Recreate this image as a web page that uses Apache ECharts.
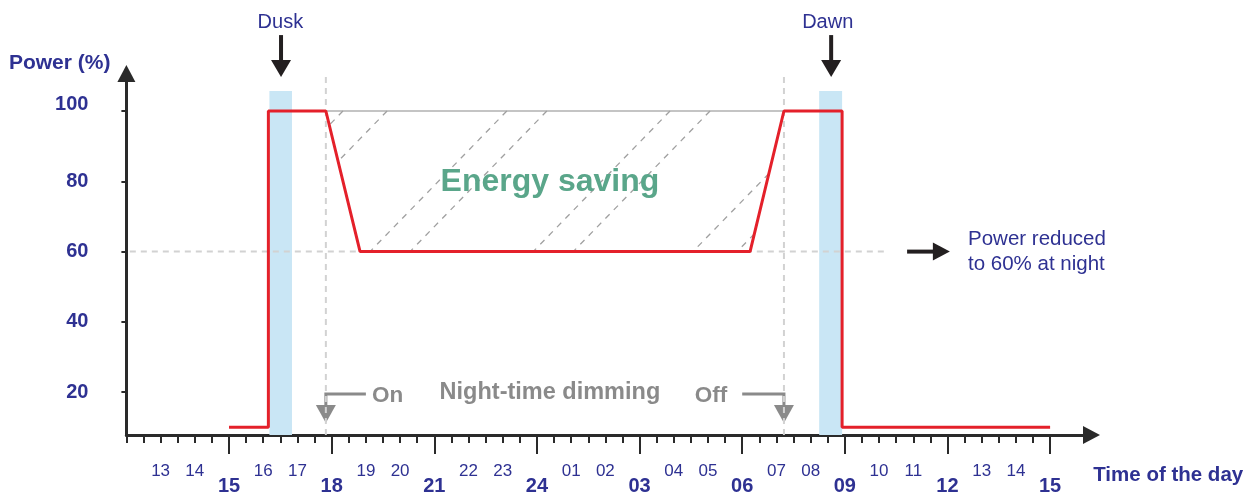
<!DOCTYPE html>
<html>
<head>
<meta charset="utf-8">
<title>Night-time dimming</title>
<script src="https://cdn.jsdelivr.net/npm/echarts@6/dist/echarts.min.js"></script>
<style>
    html, body { margin: 0; padding: 0; background: #fff; }
    #main { width: 1254px; height: 493px; }
</style>
</head>
<body>
<div id="main"></div>
<script>
    // x = hours counted from 12:00 on the first day
    var minorHours  = [1, 2, 4, 5, 7, 8, 10, 11, 13, 14, 16, 17, 19, 20, 22, 23, 25, 26];
    var minorLabels = ['13','14','16','17','19','20','22','23','01','02','04','05','07','08','10','11','13','14'];
    var majorHours  = [3, 6, 9, 12, 15, 18, 21, 24, 27];
    var majorLabels = ['15','18','21','24','03','06','09','12','15'];
    var yTicks = [20, 40, 60, 80, 100];

    // red power curve
    var powerX = [3, 4.15, 4.15, 5.83, 6.83, 18.23, 19.22, 20.92, 20.92, 27];
    var powerY = [10, 10, 100, 100, 60, 60, 100, 100, 10, 10];

    // dusk / dawn bands and switching times
    var duskBand = [4.18, 4.84];
    var dawnBand = [20.25, 20.92];
    var bandTop = 105.7;
    var dimOn = 5.83;
    var dimOff = 19.22;
    var fullLevel = 100;
    var dimLevel = 60;
    var dimLineEnd = 22.26;

    // hatch segments in the energy saving area
    var hatchStart = [[6.33, 100], [7.62, 100], [11.12, 100], [12.29, 100], [15.89, 100], [17.06, 100], [18.78, 82.2], [18.355, 65.05]];
    var hatchEnd   = [[5.94, 96.1], [6.20, 85.8], [7.12, 60], [8.29, 60], [11.89, 60], [13.06, 60], [16.56, 60], [17.85, 60]];

    var yMin = 7.82, yMax = 110.67;
    var xMax = 28.21;

    var navy = '#2e3192';
    var gray = '#8a8a8a';
    var ink = '#231f20';
    var fontFam = '"Liberation Sans", Arial, sans-serif';

    var halfHours = [];
    for (var t = 0; t <= 27; t += 0.5) { halfHours.push(t); }

    var powerData = [];
    for (var i = 0; i < powerX.length; i++) { powerData.push([powerX[i], powerY[i]]); }

    var series = [{
        type: 'line', z: 1, symbol: 'none', data: [[duskBand[0], yMin]], lineStyle: {width: 0},
        markArea: {silent: true, itemStyle: {color: '#c9e6f5'}, data: [
            [{xAxis: duskBand[0], yAxis: yMin}, {xAxis: duskBand[1], yAxis: bandTop}],
            [{xAxis: dawnBand[0], yAxis: yMin}, {xAxis: dawnBand[1], yAxis: bandTop}]
        ]}
    }, {
        type: 'line', z: 2, symbol: 'none',
        data: [[0.1, dimLevel], [dimLineEnd, dimLevel]],
        lineStyle: {color: '#d2d2d2', width: 2, type: [6, 5]}
    }, {
        type: 'line', z: 2, symbol: 'none',
        data: [[dimOn, yMin], [dimOn, 113.9]],
        lineStyle: {color: '#d2d2d2', width: 2, type: [6, 5]}
    }, {
        type: 'line', z: 2, symbol: 'none',
        data: [[dimOff, yMin], [dimOff, 113.9]],
        lineStyle: {color: '#d2d2d2', width: 2, type: [6, 5]}
    }, {
        type: 'line', z: 2, symbol: 'none',
        data: [[dimOn, fullLevel], [dimOff, fullLevel]],
        lineStyle: {color: '#b0b0b0', width: 1.5}
    }];
    for (var i = 0; i < hatchStart.length; i++) {
        series.push({
            type: 'line', z: 2, symbol: 'none', silent: true,
            data: [hatchStart[i], hatchEnd[i]],
            lineStyle: {color: '#a0a0a0', width: 1.3, type: [6, 6]}
        });
    }
    series.push({
        type: 'line', z: 5, symbol: 'none', data: powerData,
        lineStyle: {color: '#e4202a', width: 3}
    });

    var option = {
        animation: false,
        grid: {left: 126.4, right: 162.5, top: 73.5, bottom: 58, outerBoundsMode: 'none'},
        xAxis: [{
            type: 'value', position: 'bottom', min: 0, max: xMax,
            axisLine: {show: true, symbol: ['none', 'triangle'], symbolSize: [18, 17],
                lineStyle: {color: '#2a2a2a', width: 3}},
            axisTick: {show: true, customValues: halfHours, length: 8, lineStyle: {color: '#2a2a2a', width: 2}},
            axisLabel: {customValues: minorHours, margin: 28, color: navy, fontSize: 17, fontFamily: fontFam,
                formatter: function (v) { return minorLabels[minorHours.indexOf(v)]; }},
            splitLine: {show: false}
        }, {
            type: 'value', position: 'bottom', min: 0, max: xMax,
            axisLine: {show: false},
            axisTick: {show: true, customValues: majorHours, length: 19, lineStyle: {color: '#2a2a2a', width: 2}},
            axisLabel: {customValues: majorHours, margin: 41, color: navy, fontSize: 20, fontWeight: 'bold', fontFamily: fontFam,
                formatter: function (v) { return majorLabels[majorHours.indexOf(v)]; }},
            splitLine: {show: false}
        }],
        yAxis: {
            type: 'value', min: yMin, max: yMax,
            name: 'Power (%)', nameLocation: 'end', nameGap: 10, nameMoveOverlap: false,
            nameTextStyle: {color: navy, fontSize: 21, fontWeight: 'bold', fontFamily: fontFam,
                align: 'right', verticalAlign: 'middle', padding: [0, 16, 0, 0]},
            axisLine: {show: true, symbol: ['none', 'triangle'], symbolSize: [18, 17],
                lineStyle: {color: '#2a2a2a', width: 3}},
            axisTick: {show: true, customValues: yTicks, length: 5, lineStyle: {color: '#2a2a2a', width: 2}},
            axisLabel: {customValues: yTicks, margin: 38,
                formatter: function (v) { return v === 100 ? '{top|100}' : '{n|' + v + '}'; },
                rich: {
                    top: {color: navy, fontSize: 20, fontWeight: 'bold', fontFamily: fontFam, padding: [0, 0, 14, 0]},
                    n: {color: navy, fontSize: 20, fontWeight: 'bold', fontFamily: fontFam}
                }},
            splitLine: {show: false}
        },
        series: series
    };

    var chart = echarts.init(document.getElementById('main'));
    chart.setOption(option);

    function px(p) { return chart.convertToPixel({xAxisIndex: 0, yAxisIndex: 0}, p); }

    function downArrow(topPt, tipPt, color, w) {
        var a = px(topPt), b = px(tipPt);
        return [
            {type: 'polyline', shape: {points: [a, [b[0], b[1] - 15]]}, style: {stroke: color, lineWidth: w, fill: null}},
            {type: 'polygon', shape: {points: [[b[0] - 10, b[1] - 17], [b[0] + 10, b[1] - 17], b]}, style: {fill: color}}
        ];
    }

    function elbowArrow(startPt, cornerX, tipPt, color) {
        var s = px(startPt), c = px([cornerX, startPt[1]]), b = px(tipPt);
        return [
            {type: 'polyline', shape: {points: [s, c, [b[0], b[1] - 16]]}, style: {stroke: color, lineWidth: 3, fill: null}},
            {type: 'polygon', shape: {points: [[b[0] - 10, b[1] - 18], [b[0] + 10, b[1] - 18], b]}, style: {fill: color}}
        ];
    }

    function label(p, text, size, weight, color, align) {
        var q = px(p);
        return {type: 'text', x: q[0], y: q[1], z: 10, style: {text: text, fontSize: size, fontWeight: weight,
            fontFamily: fontFam, fill: color, align: align || 'center', verticalAlign: 'middle', lineHeight: 25}};
    }

    var ra = px([22.82, dimLevel]), rb = px([24.07, dimLevel]);
    var graphics = [].concat(
        downArrow([4.52, 121.6], [4.52, 109.7], ink, 4),
        downArrow([20.6, 121.6], [20.6, 109.7], ink, 4),
        elbowArrow([7.0, 19.49], dimOn, [dimOn, 11.24], gray),
        elbowArrow([18.0, 19.49], dimOff, [dimOff, 11.24], gray),
        [
            {type: 'polyline', shape: {points: [ra, [rb[0] - 15, rb[1]]]}, style: {stroke: ink, lineWidth: 4, fill: null}},
            {type: 'polygon', shape: {points: [[rb[0] - 17, rb[1] - 9], [rb[0] - 17, rb[1] + 9], rb]}, style: {fill: ink}},
            label([4.5, 125.3], 'Dusk', 20, 'normal', navy),
            label([20.5, 125.3], 'Dawn', 20, 'normal', navy),
            label([24.6, dimLevel], 'Power reduced\nto 60% at night', 20.5, 'normal', navy, 'left'),
            label([12.38, 79.8], 'Energy saving', 32, 'bold', '#5aa68a'),
            label([12.38, 19.77], 'Night-time dimming', 23.5, 'bold', gray),
            label([7.18, 18.9], 'On', 22.5, 'bold', gray, 'left'),
            label([17.56, 18.9], 'Off', 22.5, 'bold', gray, 'right'),
            label([28.26, -3.6], 'Time of the day', 20.5, 'bold', navy, 'left')
        ]
    );
    chart.setOption({graphic: graphics});
</script>
</body>
</html>
